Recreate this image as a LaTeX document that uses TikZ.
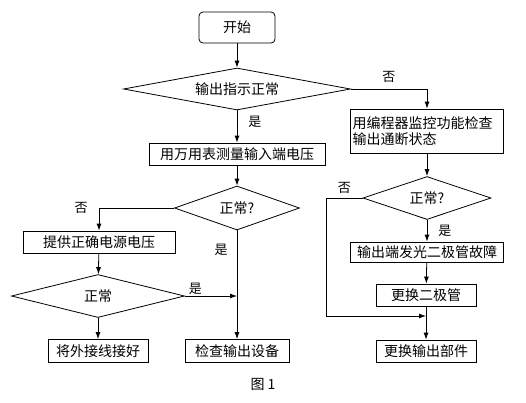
\documentclass[tikz,border=0pt]{standalone}
\usepackage{fontspec}
\newfontfamily\cjk{Noto Sans CJK SC}
\usepackage{tikz}
\usetikzlibrary{shapes.geometric,arrows.meta,positioning,calc}

\begin{document}
\begin{tikzpicture}[x=1pt,y=-1pt,>={Latex[length=7pt,width=5pt]},line width=0.8pt]
  \tikzstyle{flowbox}=[rectangle,draw,inner sep=1pt,minimum height=22pt,align=center,font=\cjk\fontsize{14}{16}\selectfont]
  \tikzstyle{flowtest}=[diamond,draw,aspect=4,inner sep=0pt,font=\cjk\fontsize{14}{16}\selectfont]
  \tikzstyle{flowlabel}=[font=\cjk\fontsize{13}{15}\selectfont,inner sep=1pt]

  \useasboundingbox (0,0) rectangle (526,402);

  % left and middle column
  \node[flowbox,rounded corners=4pt,minimum width=76pt,minimum height=31pt] (start) at (237,27.5) {开始};
  \node[flowtest,minimum width=227pt,minimum height=42pt] (outok) at (237,89) {输出指示正常};
  \node[flowbox,minimum width=176pt] (meter) at (237,154) {用万用表测量输入端电压};
  \node[flowtest,minimum width=125pt,minimum height=44pt] (voltok) at (237,208) {正常?};
  \node[flowbox,minimum width=152pt] (supply) at (99,242) {提供正确电源电压};
  \node[flowtest,minimum width=173pt,minimum height=43pt] (wireok) at (98,296) {正常};
  \node[flowbox,minimum width=100pt,minimum height=23pt] (rewire) at (98,351) {将外接线接好};
  \node[flowbox,minimum width=104pt,minimum height=23pt] (checkdev) at (237,351) {检查输出设备};

  % right column
  \node[flowbox,minimum width=153pt,minimum height=44pt,align=left,text width=149pt] (prog) at (427,131) {用编程器监控功能检查\\输出通断状态};
  \node[flowtest,minimum width=128pt,minimum height=43pt] (progok) at (427,198) {正常?};
  \node[flowbox,minimum width=153pt,minimum height=20pt] (led) at (427,252) {输出端发光二极管故障};
  \node[flowbox,minimum width=100pt] (diode) at (426,295) {更换二极管};
  \node[flowbox,minimum width=100pt] (part) at (426,351) {更换输出部件};

  \node[font=\cjk\fontsize{14}{16}\selectfont] (caption) at (263,384) {图 1};

  \coordinate (joinmid) at (237,296);
  \coordinate (joinright) at (426,316);
  \coordinate (loopx) at (326,0);

  \draw[->] (start) -- (outok);
  \draw[->] (outok) -- node[flowlabel,right,pos=0.35,xshift=10pt] (yes1) {是} (meter);
  \draw[->] (outok.east) -| node[flowlabel,above,pos=0.25,yshift=5pt] (no1) {否} (prog.north);
  \draw[->] (meter) -- (voltok);
  \draw[->] (voltok.west) -| node[flowlabel,left,pos=0.5,xshift=-10pt] (no2) {否} (supply.north);
  \draw[->] (supply) -- (wireok);
  \draw[->] (wireok) -- (rewire);
  \draw[->] (wireok.east) -- node[flowlabel,above,pos=0.2] (yes3) {是} (joinmid);
  \draw[->] (voltok.south) -- node[flowlabel,left,pos=0.18,xshift=-8pt] (yes2) {是} (checkdev);

  \draw[->] (prog) -- (progok);
  \draw[->] (progok) -- node[flowlabel,right,pos=0.5,xshift=10pt] (yes4) {是} (led);
  \draw[->] (led) -- (diode);
  \draw[->] (diode) -- (part);
  \draw[->] (progok.west) -- node[flowlabel,above,pos=0.5,yshift=3pt] (no4) {否} (progok.west -| loopx) |- (joinright);
\end{tikzpicture}
\end{document}
